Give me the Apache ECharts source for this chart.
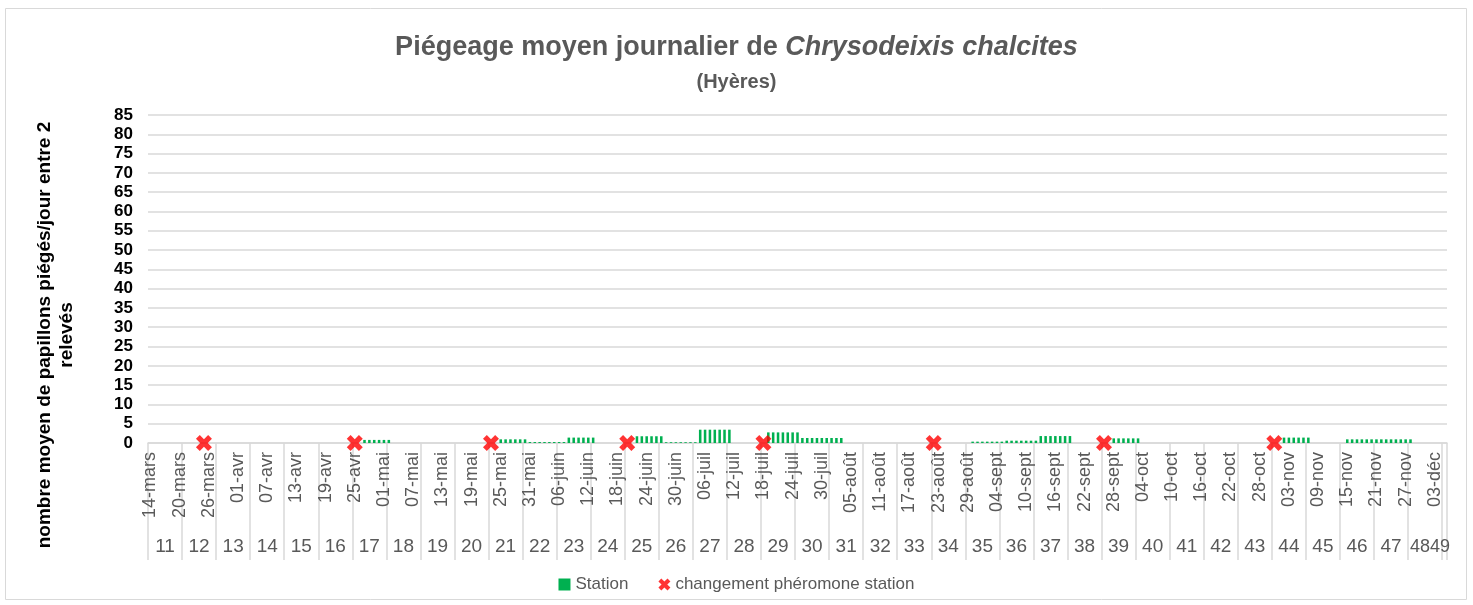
<!DOCTYPE html>
<html>
<head>
<meta charset="utf-8">
<script src="https://cdn.jsdelivr.net/npm/echarts@6/dist/echarts.min.js"></script>
<style>
  html, body { margin: 0; padding: 0; background: #fff; }
  #chart { width: 1473px; height: 605px; }
</style>
</head>
<body>
<div id="chart"></div>
<script>
// jours du 14-mars (semaine 11) au 05-déc (semaine 49)
const startDay = [2022, 2, 14];
const nbDays = 267;
const firstWeek = 11;
const monthNames = ['janv', 'févr', 'mars', 'avr', 'mai', 'juin', 'juil', 'août', 'sept', 'oct', 'nov', 'déc'];

// périodes entre 2 relevés : moyenne journalière de papillons piégés
const periodStart = ['27-avr', '25-mai', '31-mai', '08-juin', '22-juin', '28-juin', '05-juil', '19-juil', '26-juil', '30-août', '06-sept', '13-sept', '28-sept', '02-nov', '15-nov'];
const periodEnd = ['02-mai', '30-mai', '07-juin', '13-juin', '27-juin', '04-juil', '11-juil', '25-juil', '03-août', '05-sept', '12-sept', '19-sept', '03-oct', '07-nov', '28-nov'];
const periodMean = [0.8, 0.95, 0.25, 1.4, 1.75, 0.2, 3.45, 2.75, 1.3, 0.35, 0.6, 1.8, 1.2, 1.4, 0.95];

// dates de changement de phéromone
const changeDates = ['25-mars', '25-avr', '23-mai', '20-juin', '18-juil', '22-août', '26-sept', '31-oct'];

const days = [];
for (let i = 0; i < nbDays; i++) {
  const d = new Date(Date.UTC(startDay[0], startDay[1], startDay[2] + i));
  const dd = String(d.getUTCDate()).padStart(2, '0');
  days.push(dd + '-' + monthNames[d.getUTCMonth()]);
}

const stationData = days.map(() => null);
periodStart.forEach((s, k) => {
  const a = days.indexOf(s), b = days.indexOf(periodEnd[k]);
  for (let i = a; i <= b; i++) stationData[i] = periodMean[k];
});
const changeData = changeDates.map(d => [d, 0]);

const grey = '#595959';
const lineGrey = '#d9d9d9';
const xPath = 'path://M0,2.4L2.4,0L5,2.6L7.6,0L10,2.4L7.4,5L10,7.6L7.6,10L5,7.4L2.4,10L0,7.6L2.6,5Z';
const font = 'Liberation Sans, Arial, sans-serif';

// les deux dernières semaines (48 et 49) se chevauchent, comme dans Excel
const lastWeeksIdx = nbDays - 4;

const chart = echarts.init(document.getElementById('chart'));
chart.setOption({
  animation: false,
  textStyle: { fontFamily: font },
  title: {
    left: 'center',
    top: 29,
    text: '{a|Piégeage moyen journalier de }{b|Chrysodeixis chalcites}',
    textStyle: {
      rich: {
        a: { fontSize: 27, fontWeight: 'bold', color: grey, fontFamily: font },
        b: { fontSize: 27, fontWeight: 'bold', fontStyle: 'italic', color: grey, fontFamily: font }
      }
    },
    subtext: '(Hyères)',
    subtextStyle: { fontSize: 20, fontWeight: 'bold', color: grey, fontFamily: font },
    itemGap: 11
  },
  legend: {
    bottom: 7,
    left: 'center',
    itemWidth: 12,
    itemHeight: 12,
    itemGap: 30,
    textStyle: { fontSize: 17, color: grey, fontFamily: font },
    data: [
      { name: 'Station', icon: 'path://M1,1L9,1L9,9L1,9Z' },
      { name: 'changement phéromone station', icon: xPath }
    ]
  },
  graphic: [
    {
      type: 'rect',
      shape: { x: 5.5, y: 8.5, width: 1461, height: 591 },
      style: { fill: 'none', stroke: lineGrey, lineWidth: 1 },
      silent: true
    },
    {
      type: 'text',
      x: 56,
      y: 335,
      rotation: Math.PI / 2,
      style: {
        text: 'nombre moyen de papillons piégés/jour entre 2\nrelevés',
        fontSize: 19,
        fontWeight: 'bold',
        fontFamily: font,
        fill: '#000',
        align: 'center',
        verticalAlign: 'middle',
        lineHeight: 22
      }
    }
  ],
  grid: { left: 148, right: 26, top: 115, bottom: 162 },
  xAxis: [
    {
      type: 'category',
      data: days,
      axisLine: { lineStyle: { color: lineGrey, width: 1.5 } },
      axisTick: {
        show: true,
        interval: (i) => i % 7 === 0,
        length: 117,
        lineStyle: { color: lineGrey, width: 1.5 }
      },
      axisLabel: {
        interval: 5,
        rotate: 90,
        margin: 9,
        fontSize: 18,
        color: grey
      }
    },
    {
      type: 'category',
      data: days,
      position: 'bottom',
      offset: 94,
      axisLine: { show: false },
      axisTick: { show: false },
      axisLabel: {
        interval: (i) => (i % 7 === 3 && i < lastWeeksIdx - 1) || i === lastWeeksIdx,
        formatter: (v, i) => i === lastWeeksIdx
          ? '{s|' + (firstWeek + 37) + (firstWeek + 38) + '}'
          : String(firstWeek + Math.floor(i / 7)),
        rich: { s: { fontSize: 18, color: grey, fontFamily: font, padding: [1, 0, 0, 0] } },
        fontSize: 19,
        color: grey,
        margin: 0
      }
    }
  ],
  yAxis: {
    type: 'value',
    min: 0,
    max: 85,
    interval: 5,
    axisLine: { show: false },
    axisTick: { show: false },
    splitLine: { lineStyle: { color: lineGrey, width: 1.5 } },
    axisLabel: { fontSize: 17, fontWeight: 'bold', color: '#000', margin: 15 }
  },
  series: [
    {
      name: 'Station',
      type: 'bar',
      data: stationData,
      barWidth: '52%',
      itemStyle: { color: '#00b050' }
    },
    {
      name: 'changement phéromone station',
      type: 'scatter',
      data: changeData,
      symbol: xPath,
      symbolSize: 16,
      itemStyle: { color: '#ff0000' },
      z: 5
    }
  ]
});
</script>
</body>
</html>
